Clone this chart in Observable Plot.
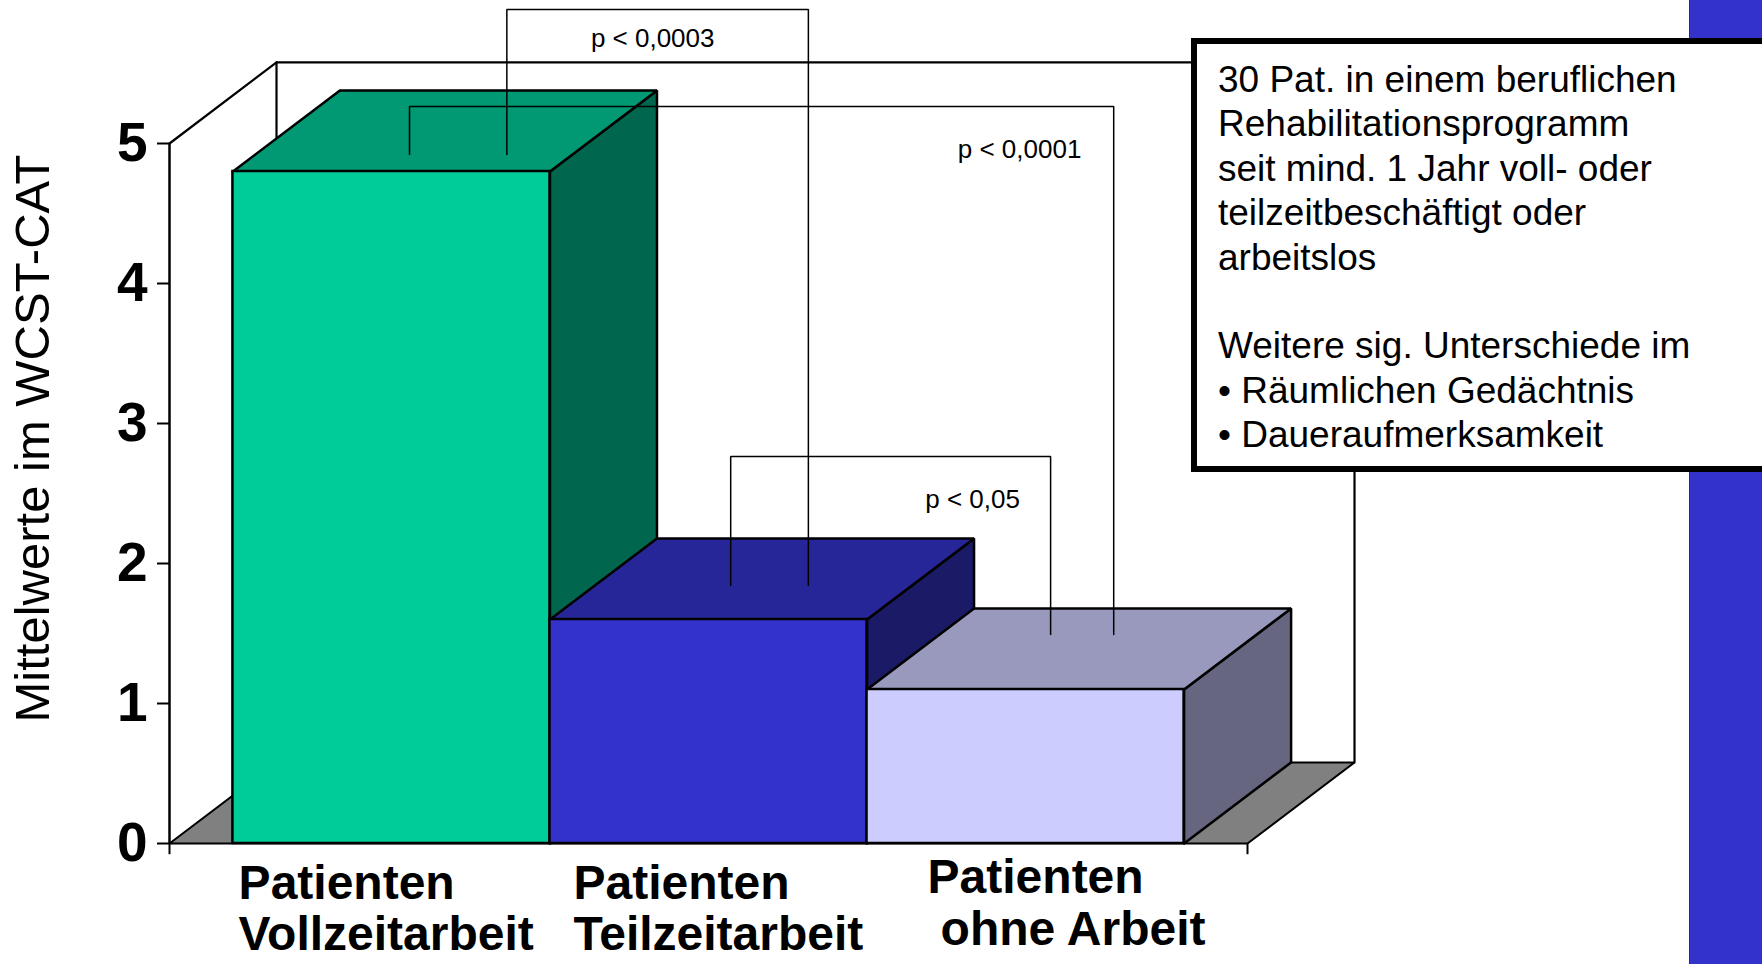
<!DOCTYPE html>
<html>
<head>
<meta charset="utf-8">
<script src="https://cdn.jsdelivr.net/npm/d3@7"></script>
<script src="https://cdn.jsdelivr.net/npm/@observablehq/plot@0.6"></script>
<style>
html, body { margin: 0; padding: 0; background: #fff; width: 1762px; height: 964px; overflow: hidden; }
body { position: relative; font-family: "Liberation Sans", Arial, sans-serif; }
#chart { position: absolute; left: 0; top: 0; }
#stripe { position: absolute; left: 1689px; top: 0; width: 80px; height: 964px; background: #3333CC; border-left: 1px solid #333; }
#note { position: absolute; left: 1191px; top: 38px; width: 600px; height: 434px; box-sizing: border-box;
        border: 6px solid #000; background: #fff; padding: 14px 0 0 21px;
        font-family: "Liberation Sans", Arial, sans-serif; font-size: 37px; line-height: 44.4px; color: #000; white-space: pre; }
</style>
</head>
<body>
<div id="chart"></div>
<div id="stripe"></div>
<div id="note"></div>
<script>
// ---- data ----
const categories = ["Patienten Vollzeitarbeit", "Patienten Teilzeitarbeit", "Patienten ohne Arbeit"];
const values = [4.8, 1.6, 1.1];
const yTicks = [0, 1, 2, 3, 4, 5];
const yTitle = "Mittelwerte im WCST-CAT";
const compFrom = [0, 0, 1];
const compTo = [1, 2, 2];
const compLabels = ["p < 0,0003", "p < 0,0001", "p < 0,05"];
const noteLines = [
  "30 Pat. in einem beruflichen",
  "Rehabilitationsprogramm",
  "seit mind. 1 Jahr voll- oder",
  "teilzeitbeschäftigt oder",
  "arbeitslos",
  "",
  "Weitere sig. Unterschiede im",
  "• Räumlichen Gedächtnis",
  "• Daueraufmerksamkeit"
];

// ---- styling / layout ----
const frontColors = ["#00CC99", "#3333CC", "#CCCCFF"];
const topColors   = ["#009973", "#262699", "#9999BD"];
const sideColors  = ["#00664D", "#1A1A66", "#666680"];
const FLOOR_END = 3.4, BAR_START = 0.2, BAR_W = 1, DX = 0.3375, DY = 0.579, YMAX = 5;
// annotation layout (bracket geometry, in chart units)
const bracketTop = [5.957, 5.264, 2.764];
const legFromOffset = [0.864, 0.557, 0.570];
const legToOffset = [0.815, 0.778, 0.579];
const legLift = [0.121, 0.243, 0.393];
const pLabelX = [1.524, 2.681, 2.533];
const pLabelY = [5.69, 4.893, 2.393];
// category label layout (offset from bar's left edge, vertical lift)
const label1Indent = [0.018, 0.074, 0.191];
const label2Indent = [0.018, 0.074, 0.232];
const labelLift = [0, 0, 0.04];

document.getElementById("note").textContent = noteLines.join("\n");

const idx = values.map((_, i) => i);
const poly = (pts, id) => pts.map(([x, y]) => ({x, y, id}));

// floor & wall
const floorPts = poly([[0,0],[FLOOR_END,0],[FLOOR_END+DX,DY],[DX,DY],[0,0]], "floor");
const wallPts = [
  ...poly([[0,YMAX],[DX,YMAX+DY],[FLOOR_END+DX,YMAX+DY],[FLOOR_END+DX,DY]], "w1"),
  ...poly([[DX,YMAX+DY],[DX,DY]], "w2")
];

const barMarks = [];
idx.forEach(i => {
  const x0 = BAR_START + i * BAR_W, x1 = x0 + BAR_W, v = values[i];
  const side = poly([[x1,0],[x1+DX,DY],[x1+DX,v+DY],[x1,v],[x1,0]], "s" + i);
  const top = poly([[x0,v],[x1,v],[x1+DX,v+DY],[x0+DX,v+DY],[x0,v]], "t" + i);
  barMarks.push(
    Plot.line(side, {x: "x", y: "y", fill: sideColors[i], stroke: "black", strokeWidth: 2.5, strokeLinejoin: "miter"}),
    Plot.line(top, {x: "x", y: "y", fill: topColors[i], stroke: "black", strokeWidth: 2.5, strokeLinejoin: "miter"}),
    Plot.rect([i], {x1: j => BAR_START + j, x2: j => BAR_START + j + BAR_W, y1: 0, y2: j => values[j],
      fill: frontColors[i], stroke: "black", strokeWidth: 2.5})
  );
});

// brackets
const bracketPts = [];
compLabels.forEach((_, k) => {
  const a = compFrom[k], b = compTo[k];
  const xa = BAR_START + a + legFromOffset[k], xb = BAR_START + b + legToOffset[k];
  bracketPts.push(...poly([
    [xa, values[a] + legLift[a]], [xa, bracketTop[k]], [xb, bracketTop[k]], [xb, values[b] + legLift[b]]
  ], "b" + k));
});

const line1 = categories.map(c => c.slice(0, c.indexOf(" ")));
const line2 = categories.map(c => c.slice(c.indexOf(" ") + 1));

const chart = Plot.plot({
  width: 1762,
  height: 964,
  marginLeft: 169,
  marginRight: 515,
  marginTop: 143,
  marginBottom: 121,
  x: {domain: [0, FLOOR_END], axis: null},
  y: {domain: [0, YMAX]},
  style: {fontFamily: "Liberation Sans, Arial, sans-serif", background: "white", overflow: "visible"},
  marks: [
    Plot.line(floorPts, {x: "x", y: "y", fill: "#808080", stroke: "black", strokeWidth: 2, strokeLinejoin: "miter"}),
    Plot.line(wallPts, {x: "x", y: "y", z: "id", stroke: "black", strokeWidth: 2.2, strokeLinejoin: "miter"}),
    Plot.ruleX([0], {y1: 0, y2: YMAX, stroke: "black", strokeWidth: 2.5}),
    Plot.ruleX([0, FLOOR_END], {y1: 0, y2: -0.08, stroke: "black", strokeWidth: 2}),
    ...barMarks,
    Plot.line(bracketPts, {x: "x", y: "y", z: "id", stroke: "black", strokeWidth: 1.5, strokeLinejoin: "miter"}),
    Plot.text(compLabels, {x: (d, k) => pLabelX[k], y: (d, k) => pLabelY[k], text: d => d,
      fontSize: 26, textAnchor: "middle", lineAnchor: "bottom", fill: "black"}),
    Plot.axisY({ticks: yTicks, tickSize: 12, tickPadding: 10, fontSize: 55, fontWeight: "bold",
      strokeWidth: 2, tickFormat: d => String(d), label: null, fill: "black", stroke: "black"}),
    Plot.text(idx, {x: i => BAR_START + i + label1Indent[i], y: i => -0.393 + labelLift[i], text: i => line1[i],
      fontSize: 48, fontWeight: "bold", textAnchor: "start", lineAnchor: "bottom", fill: "black"}),
    Plot.text(idx, {x: i => BAR_START + i + label2Indent[i], y: i => -0.764 + labelLift[i], text: i => line2[i],
      fontSize: 48, fontWeight: "bold", textAnchor: "start", lineAnchor: "bottom", fill: "black"}),
    Plot.text([yTitle], {x: -0.429, y: 2.893, text: d => d, rotate: -90, fontSize: 49,
      textAnchor: "middle", lineAnchor: "middle", fill: "black"})
  ]
});
document.getElementById("chart").appendChild(chart);
</script>
</body>
</html>
